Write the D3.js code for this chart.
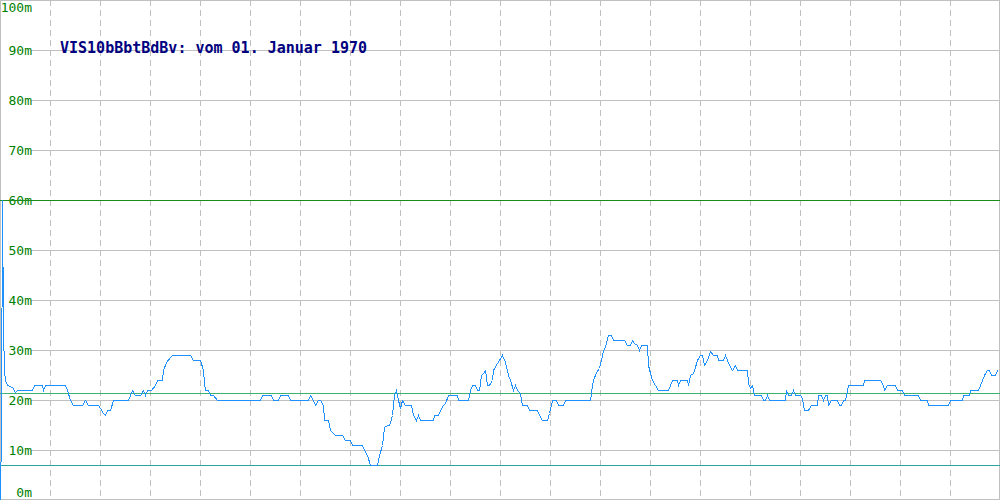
<!DOCTYPE html>
<html><head><meta charset="utf-8">
<script src="https://cdn.jsdelivr.net/npm/d3@7"></script>
<style>html,body{margin:0;padding:0;background:#fff;overflow:hidden}</style>
</head><body><svg id="c" width="1000" height="500"></svg>
<script>
const title = "VIS10bBbtBdBv: vom 01. Januar 1970";
const yTickValues = [0,10,20,30,40,50,60,70,80,90,100];
const yTickLabels = ["0m","10m","20m","30m","40m","50m","60m","70m","80m","90m","100m"];
const xGridValues = [50,100,150,200,250,300,350,400,450,500,550,600,650,700,750,800,850,900,950];
const thresholds = [60, 21.5, 7];
const thresholdColors = ["#1a8c1a", "#3cb371", "#2aa59a"];
// sample index (time) and visibility in metres
const sampleIdx = [0,1,2,3,4,5,7,12,15,17,32,34,42,43,45,65,67,70,73,82,85,88,98,100,103,105,107,110,113,128,132,135,140,143,145,147,151,155,157,162,163,166,170,172,190,193,200,203,204,205,208,210,213,217,260,262,271,273,278,280,288,290,308,310,313,315,318,320,323,324,328,330,335,342,345,350,352,362,364,367,370,377,379,382,384,387,389,390,392,394,396,398,400,402,405,411,413,416,418,420,433,434,438,440,443,445,448,457,458,468,470,472,475,477,479,481,483,485,487,489,492,493,497,499,502,505,508,510,513,515,517,520,522,527,529,537,539,542,547,549,552,556,558,563,565,590,592,593,596,599,601,603,605,608,611,613,624,627,630,632,634,637,639,641,647,648,650,652,655,658,668,672,677,678,680,687,688,690,693,694,697,700,702,704,707,710,713,717,718,723,725,727,729,732,735,737,747,748,750,752,754,761,763,765,767,769,785,786,788,791,793,795,800,802,804,808,811,817,818,821,823,825,827,828,831,837,839,841,843,845,847,848,863,864,880,883,884,887,895,897,902,904,918,920,927,928,948,950,962,963,969,970,978,980,982,984,987,989,991,995,997];
const visibility = [0,15,60,34,26,24,23,22.6,21.6,22,22,23,23,22,23,23,22,20,19,19,20,19,19,18.4,17.4,17,18,18,20,20,22,21,21,22,21,22,22,23,24,24,26,27.6,28.6,29,29,28,28,26,23.6,22,22,21,21,20,20,21,21,20,20,21,21,20,20,21,20,19,20,20,19,16,16,14,13,13,12,12,11,11,10,9,7,7,9,11,14.6,15,15,15.6,17,21,22,20,18.4,20,19,19,17,16,17,16,16,17,17,18,19,19.4,21,21,20,20,22,23,23,22,22,25,25.4,26,23,23,24,26,27.4,28,29,27.6,25,24,22,23,22,21.4,19,19,18,18,17,16,16,17.4,20,20,19,19,20,20,23,24,25.6,26.4,28,30,30.6,33,33,32,32,31,31,32,31.4,31,30,31,31,27,25.4,24,23,22,22,24,24,23,24,24,23,25,25.4,26,28,29,29,27,28,29.8,29,29,28,28,29,28,27,26,27,26,26,23.4,22.4,23,21,21,20,20,21,20,20,22,21,21,22,21,21,20.4,18,18,19,19,21,21,20,21,21,19,20,20,19,19,20,20,22,23,23,24,24,23,22,23,23,22,22,21,21,20,20,19,19,20,20,21,21,22,22,23,24,25,26,26,25,25,26];

const svg = d3.select("#c");
const W = 1000, H = 500;
const x = d3.scaleLinear().domain([0, 1000]).range([0, W]);
const y = d3.scaleLinear().domain([0, 100]).range([H, 0]);
const gridCol = "#c0c0c0";

// horizontal grid
svg.append("g").selectAll("line").data(yTickValues).join("line")
  .attr("x1", 31).attr("x2", W).attr("y1", d => Math.min(H - 0.5, Math.round(y(d)) + 0.5)).attr("y2", d => Math.min(H - 0.5, Math.round(y(d)) + 0.5))
  .attr("stroke", gridCol).attr("stroke-width", 1);

// vertical dashed grid
svg.append("g").selectAll("line").data(xGridValues).join("line")
  .attr("x1", d => Math.round(x(d)) + 0.5).attr("x2", d => Math.round(x(d)) + 0.5)
  .attr("y1", 0).attr("y2", H)
  .attr("stroke", gridCol).attr("stroke-width", 1).attr("stroke-dasharray", "6,4");

// frame
svg.append("rect").attr("x", 0.5).attr("y", 0.5).attr("width", W - 1).attr("height", H - 1)
  .attr("fill", "none").attr("stroke", gridCol);

// y labels
svg.append("g").selectAll("text").data(yTickValues).join("text")
  .attr("x", 32).attr("y", d => Math.max(7, Math.min(492, y(d))))
  .attr("dy", "0.36em").attr("text-anchor", "end")
  .attr("font-family", "DejaVu Sans Mono, monospace").attr("font-size", 13)
  .attr("fill", "#008000")
  .text((d, i) => yTickLabels[i]);

// threshold lines
svg.append("g").selectAll("line").data(thresholds).join("line")
  .attr("x1", 0).attr("x2", W)
  .attr("y1", d => Math.round(y(d)) + 0.5).attr("y2", d => Math.round(y(d)) + 0.5)
  .attr("stroke", (d, i) => thresholdColors[i]).attr("stroke-width", 1);

// title
svg.append("text").attr("x", 60).attr("y", 53)
  .attr("font-family", "DejaVu Sans Mono, monospace").attr("font-size", 15).attr("font-weight", "bold")
  .attr("fill", "#000080").text(title);

// data line
const pts = sampleIdx.map((s, i) => [s, visibility[i]]);
const line = d3.line().x(d => x(d[0]) + 0.5).y(d => y(d[1]) + 0.5);
svg.append("path").datum(pts).attr("d", line)
  .attr("fill", "none").attr("stroke", "#1e90ff").attr("stroke-width", 1)
  .attr("shape-rendering", "crispEdges");
</script>
</body></html>
